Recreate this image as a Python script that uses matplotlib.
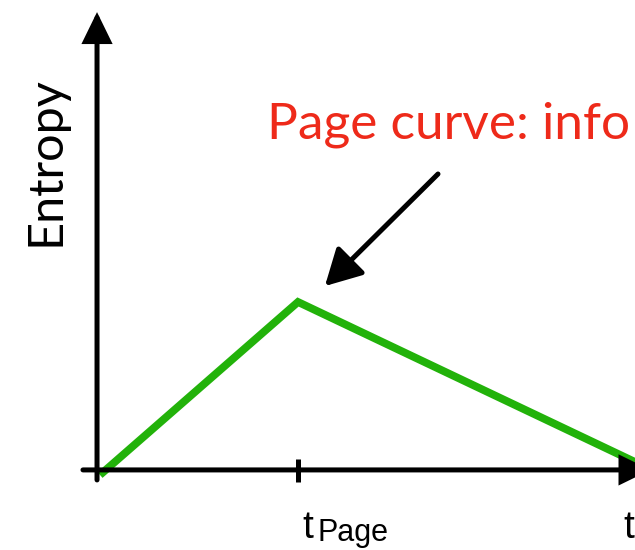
import matplotlib.pyplot as plt

# schematic Page curve: entropy vs time (arbitrary units)
time = [0.0, 1.0, 2.84]
entropy = [0.0, 1.0, 0.0]
t_page = time[1]

curve_label = "Page curve: info"
y_label = "Entropy"
tick_main = "t"
tick_sub = "Page"

W, H = 635, 550


def fx(px):
    return px / W


def fy(py):
    return 1 - py / H


fig = plt.figure(figsize=(W / 100, H / 100), dpi=100)
ax = fig.add_axes([0, 0, 1, 1])
ax.set_xlim(-0.505, 2.702)
ax.set_ylim(-0.434, 2.746)
ax.axis("off")

# axes with arrow heads
axis_arrow = dict(arrowstyle="-|>,head_length=0.45,head_width=0.22", mutation_scale=38,
                  lw=3.6, color="black", shrinkA=0, shrinkB=0, joinstyle="miter")
ax.annotate("", xy=(-0.015, 2.676), xytext=(-0.015, -0.029), arrowprops=axis_arrow,
            annotation_clip=False)
ax.annotate("", xy=(2.78, 0.029), xytext=(-0.086, 0.029), arrowprops=axis_arrow,
            annotation_clip=False)

# tick at t_Page
ax.plot([t_page, t_page], [-0.040, 0.092], color="black", lw=3.6, solid_capstyle="butt")

# the curve
ax.plot(time, entropy, color="#22b20a", lw=5.6, solid_joinstyle="miter", solid_capstyle="butt")

# pointer arrow to the peak
ax.annotate("", xy=(1.136, 1.092), xytext=(1.707, 1.740),
            arrowprops=dict(arrowstyle="-|>,head_length=0.55,head_width=0.3", mutation_scale=40,
                            lw=3.6, color="black", shrinkA=0, shrinkB=0))

# texts
fig.text(fx(267), fy(139), curve_label, color="#ee2a1a", fontsize=37, family="Lato",
         ha="left", va="baseline")
fig.text(fx(60), fy(161), y_label, color="black", fontsize=35, family="Lato",
         rotation=90, rotation_mode="anchor", ha="center", va="baseline")
fig.text(fx(302), fy(538), tick_main, fontsize=28, family="Liberation Sans", ha="left", va="baseline")
fig.text(fx(318), fy(541), tick_sub, fontsize=22, family="Liberation Sans", ha="left", va="baseline")
fig.text(fx(623), fy(538), tick_main, fontsize=28, family="Liberation Sans", ha="left", va="baseline")

fig.savefig("out.png", dpi=100)
